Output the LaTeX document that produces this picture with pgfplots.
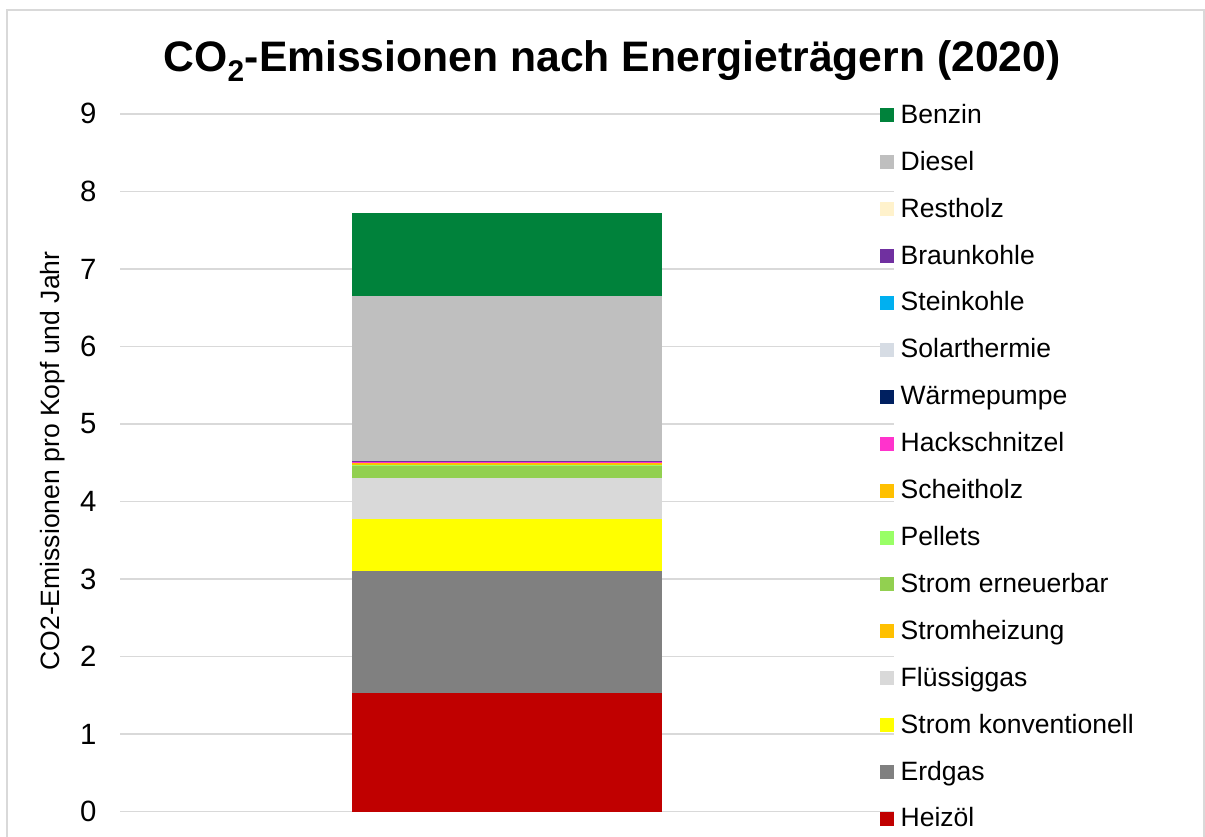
\documentclass[border=0pt]{standalone}
\usepackage{fontspec}
\setmainfont{Liberation Sans}
\usepackage{pgfplots}
\pgfplotsset{compat=1.18}
\definecolor{cGrid}{HTML}{D9D9D9}
\definecolor{cHeizoel}{HTML}{C00000}
\definecolor{cErdgas}{HTML}{808080}
\definecolor{cStromK}{HTML}{FFFF00}
\definecolor{cFluessig}{HTML}{D9D9D9}
\definecolor{cStromH}{HTML}{FFC000}
\definecolor{cStromE}{HTML}{92D050}
\definecolor{cPellets}{HTML}{99FF66}
\definecolor{cScheit}{HTML}{FFC000}
\definecolor{cHack}{HTML}{FF33CC}
\definecolor{cWP}{HTML}{002060}
\definecolor{cSolar}{HTML}{D6DCE4}
\definecolor{cStein}{HTML}{00B0F0}
\definecolor{cBraun}{HTML}{7030A0}
\definecolor{cRest}{HTML}{FFF2CC}
\definecolor{cDiesel}{HTML}{BFBFBF}
\definecolor{cBenzin}{HTML}{00823B}
\begin{document}
\begin{tikzpicture}
\useasboundingbox (0,0) rectangle (903.75pt,627pt);
\draw[color=cGrid, line width=1.1pt] (5.25pt,-20pt) rectangle (903pt,619.5pt);
\node[anchor=base, font=\bfseries\fontsize{32}{38}\selectfont] at (459pt,573.2pt) {CO\textsubscript{2}-Emissionen nach Energieträgern (2020)};
\node[rotate=90, anchor=center, font=\fontsize{19.9}{24}\selectfont] at (39.5pt,281.25pt) {CO2-Emissionen pro Kopf und Jahr};
\begin{axis}[
  at={(90pt,18.2pt)}, anchor=south west,
  scale only axis, width=580.5pt, height=523.4pt,
  xmin=0, xmax=1, ymin=0, ymax=9,
  ytick={0,1,2,3,4,5,6,7,8,9}, xtick=\empty,
  ybar stacked, bar width=232.5pt,
  axis line style={draw=none}, major tick length=0pt,
  ymajorgrids, grid style={cGrid, line width=1.1pt},
  yticklabel style={font=\fontsize{22}{26}\selectfont, inner sep=0pt, xshift=-17.5pt},
  /pgf/number format/assume math mode=true,
  reverse legend,
  legend image code/.code={\fill[#1] (0pt,0.75pt) rectangle (10.5pt,11.25pt);},
  legend style={at={(rel axis cs:1,1)}, anchor=north west, xshift=-10.5pt, yshift=6.9pt,
    draw=none, fill=none, inner sep=0pt, outer sep=0pt,
    font=\fontsize{19.9}{24}\selectfont,
    /tikz/column sep=5pt, /tikz/row sep=17.18pt,
    nodes={inner sep=0pt, text height=14pt, text depth=4pt, anchor=base west}},
  every axis plot/.append style={draw=none},
]
\addplot[fill=cHeizoel] coordinates {(0.5,1.535)}; \addlegendentry{Heizöl}
\addplot[fill=cErdgas] coordinates {(0.5,1.569)}; \addlegendentry{Erdgas}
\addplot[fill=cStromK] coordinates {(0.5,0.670)}; \addlegendentry{Strom konventionell}
\addplot[fill=cFluessig] coordinates {(0.5,0.533)}; \addlegendentry{Flüssiggas}
\addplot[fill=cStromH] coordinates {(0.5,0)}; \addlegendentry{Stromheizung}
\addplot[fill=cStromE] coordinates {(0.5,0.147)}; \addlegendentry{Strom erneuerbar}
\addplot[fill=cPellets] coordinates {(0.5,0.013)}; \addlegendentry{Pellets}
\addplot[fill=cScheit] coordinates {(0.5,0.026)}; \addlegendentry{Scheitholz}
\addplot[fill=cHack] coordinates {(0.5,0.013)}; \addlegendentry{Hackschnitzel}
\addplot[fill=cWP] coordinates {(0.5,0)}; \addlegendentry{Wärmepumpe}
\addplot[fill=cSolar] coordinates {(0.5,0)}; \addlegendentry{Solarthermie}
\addplot[fill=cStein] coordinates {(0.5,0)}; \addlegendentry{Steinkohle}
\addplot[fill=cBraun] coordinates {(0.5,0.013)}; \addlegendentry{Braunkohle}
\addplot[fill=cRest] coordinates {(0.5,0)}; \addlegendentry{Restholz}
\addplot[fill=cDiesel] coordinates {(0.5,2.131)}; \addlegendentry{Diesel}
\addplot[fill=cBenzin] coordinates {(0.5,1.070)}; \addlegendentry{Benzin}
\end{axis}
\end{tikzpicture}
\end{document}
